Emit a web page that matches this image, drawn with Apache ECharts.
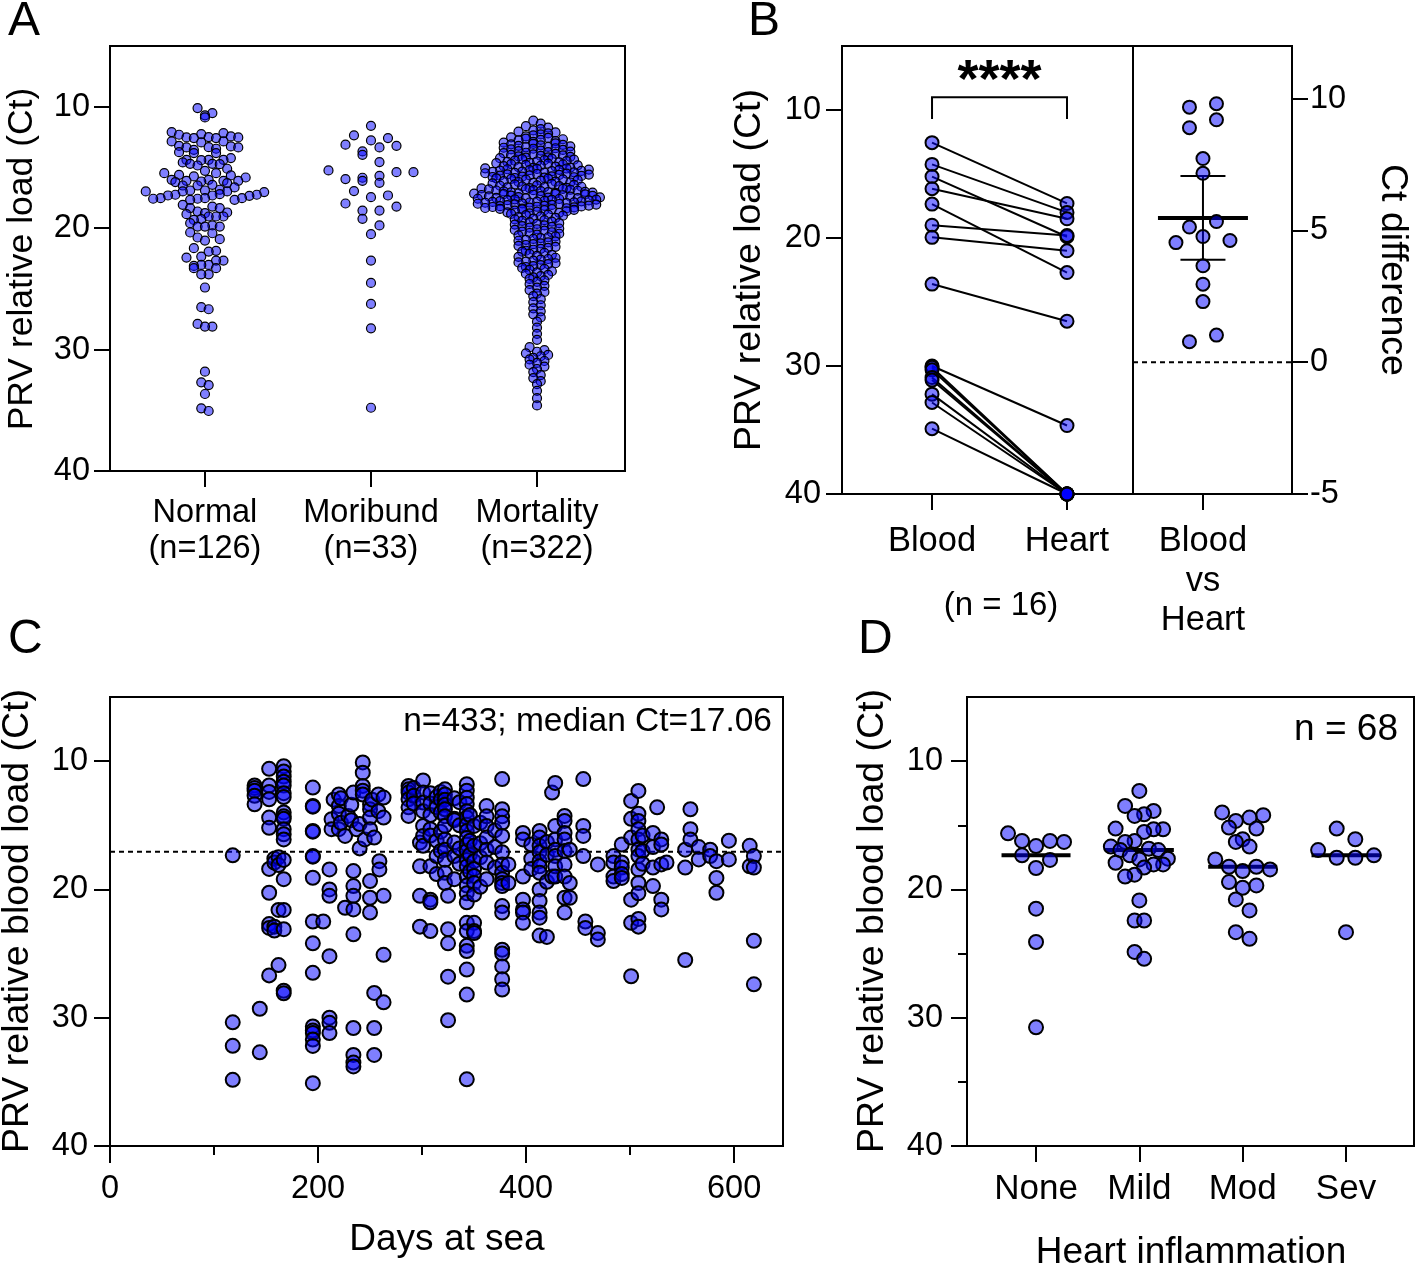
<!DOCTYPE html>
<html>
<head>
<meta charset="utf-8">
<title>PRV relative load</title>
<script src="https://cdn.jsdelivr.net/npm/echarts@6/dist/echarts.min.js"></script>
<style>
  html, body { margin: 0; padding: 0; background: #fff; }
  #main { width: 1424px; height: 1268px; }
</style>
</head>
<body>
<div id="main"></div>
<script>
// ---------- data ----------
var ctTicks = [10, 20, 30, 40];
var ctMinorTicks = [15, 25, 35];

// panel A
var groupNames = ['Normal\n(n=126)', 'Moribund\n(n=33)', 'Mortality\n(n=322)'];
var normalCt = [10.11, 10.52, 10.71, 10.88,
  12.09, 12.17, 12.25, 12.31, 12.45, 12.5, 12.53, 12.53, 12.58, 12.58,
  12.86, 12.86, 12.94, 13.22, 13.27, 13.33, 13.35, 13.35,
  13.46, 13.55, 13.74, 13.82, 13.82,
  14.23, 14.37, 14.37, 14.37, 14.4, 14.59, 14.7, 14.7, 14.73, 14.84,
  15.11, 15.28, 15.47, 15.47, 15.61, 15.66, 15.74,
  15.83, 16.02, 16.02, 16.1, 16.1, 16.1, 16.16, 16.21, 16.29, 16.43, 16.49,
  16.49, 16.65, 16.84, 16.9, 16.9, 16.98, 16.98, 16.98, 17.03, 17.2, 17.25, 17.25, 17.31, 17.31, 17.34,
  17.53, 17.53, 17.53, 17.58, 17.58, 17.67, 17.67,
  18.08, 18.22, 18.35, 18.35, 18.63, 18.71, 18.77, 18.85, 19.04, 19.04, 19.04, 19.26, 19.32,
  19.59, 19.78, 19.87, 19.87, 19.87,
  20.36, 20.42, 20.77, 20.91, 21.02,
  21.65,
  21.87, 21.93, 22.34, 22.42, 22.67, 22.67,
  23.03, 23.03, 23.11, 23.3, 23.3, 23.8, 23.8,
  24.89, 26.51, 26.68, 27.89, 28.11, 28.11,
  31.82, 32.7, 32.92, 33.66, 34.84, 35.06];
var moribundCt = [11.57, 12.36, 12.58, 12.78, 13.13, 13.22, 13.35, 13.68, 13.96, 14.56,
  15.25, 15.39, 15.39, 15.69, 15.85, 15.96, 16.1, 16.27, 16.95, 17.31, 17.45, 17.97,
  18.22, 18.55, 18.55, 19.23, 19.78, 20.5, 22.67, 24.51, 26.24, 28.25, 34.79];
var mortalityCt = [11.15, 11.4,
  11.6, 11.72, 11.84, 11.95,
  12.05, 12.12, 12.2, 12.28, 12.36, 12.45,
  12.52, 12.57, 12.62, 12.68, 12.73, 12.78, 12.84, 12.9, 12.96,
  13.02, 13.06, 13.1, 13.14, 13.18, 13.22, 13.26, 13.3, 13.34, 13.38, 13.42, 13.46,
  13.52, 13.56, 13.61, 13.65, 13.7, 13.74, 13.79, 13.83, 13.88, 13.92, 13.97,
  14.01, 14.05, 14.09, 14.13, 14.17, 14.2, 14.24, 14.28, 14.32, 14.36, 14.4, 14.44, 14.48,
  14.51, 14.55, 14.58, 14.62, 14.65, 14.69, 14.72, 14.76, 14.79, 14.83, 14.86, 14.9, 14.93, 14.97,
  15.01, 15.04, 15.07, 15.09, 15.12, 15.15, 15.18, 15.2, 15.23, 15.26, 15.29, 15.31, 15.34, 15.37, 15.4, 15.42, 15.45, 15.48,
  15.51, 15.54, 15.57, 15.59, 15.62, 15.65, 15.68, 15.7, 15.73, 15.76, 15.79, 15.81, 15.84, 15.87, 15.9, 15.92, 15.95, 15.98,
  16.01, 16.05, 16.09, 16.13, 16.17, 16.2, 16.24, 16.28, 16.32, 16.36, 16.4, 16.44, 16.48,
  16.51, 16.54, 16.57, 16.59, 16.62, 16.65, 16.68, 16.7, 16.73, 16.76, 16.79, 16.81, 16.84, 16.87, 16.9, 16.92, 16.95, 16.98,
  17.01, 17.03, 17.05, 17.08, 17.1, 17.13, 17.15, 17.17, 17.2, 17.22, 17.25, 17.27, 17.29, 17.32, 17.34, 17.37, 17.39, 17.41, 17.44, 17.46, 17.49,
  17.51, 17.53, 17.55, 17.58, 17.6, 17.63, 17.65, 17.67, 17.7, 17.72, 17.75, 17.77, 17.79, 17.82, 17.84, 17.87, 17.89, 17.91, 17.94, 17.96, 17.99,
  18.01, 18.04, 18.06, 18.09, 18.11, 18.14, 18.16, 18.19, 18.21, 18.24, 18.26, 18.29, 18.31, 18.34, 18.36, 18.39, 18.41, 18.44, 18.46, 18.49,
  18.52, 18.56, 18.61, 18.65, 18.7, 18.74, 18.79, 18.83, 18.88, 18.92, 18.97,
  19.03, 19.09, 19.15, 19.21, 19.28, 19.34, 19.4, 19.46,
  19.53, 19.59, 19.65, 19.71, 19.78, 19.84, 19.9, 19.96,
  20.03, 20.09, 20.15, 20.21, 20.28, 20.34, 20.4, 20.46,
  20.54, 20.6, 20.68, 20.75, 20.82, 20.89, 20.96,
  21.04, 21.1, 21.18, 21.25, 21.32, 21.39, 21.46,
  21.54, 21.62, 21.7, 21.78, 21.86, 21.94,
  22.04, 22.12, 22.2, 22.28, 22.36, 22.44,
  22.54, 22.6, 22.68, 22.75, 22.82, 22.89, 22.96,
  23.04, 23.12, 23.2, 23.28, 23.36, 23.44,
  23.55, 23.65, 23.75, 23.85, 23.95,
  24.06, 24.18, 24.3, 24.42,
  24.6, 24.75, 24.9, 25.1, 25.25, 25.4,
  25.6, 25.85, 26.1, 26.35, 26.6, 26.85, 27.1, 27.35, 27.7,
  28.2, 28.7, 29.2, 29.8,
  30.05, 30.18, 30.31, 30.44, 30.55, 30.68, 30.81, 30.94,
  31.1, 31.25, 31.4, 31.6, 31.85, 32.1, 32.35, 32.6, 32.85,
  33.4, 34.0, 34.6];

// panel B
var pairNames = ['Blood', 'Heart'];
var bloodCt = [12.55, 14.25, 15.2, 16.15, 17.35, 19.0, 19.95, 23.6, 30.0, 30.1, 30.3, 30.9, 31.1, 32.2, 32.85, 34.9];
var heartCt = [17.3, 18.0, 19.9, 18.5, 22.7, 19.8, 21.0, 26.5, 34.65, 40, 40, 40, 40, 40, 40, 40];
var diffName = ['Blood\nvs\nHeart'];
var ctDiff = [9.68, 9.81, 9.2, 8.9, 7.73, 7.17, 5.34, 4.77, 5.13, 4.54, 4.62, 3.66, 2.96, 2.3, 0.78, 1.03];
var diffTicks = [-5, 0, 5, 10];
var tCritical = 2.131;          // 95% CI, df = 15
var bracketCt = [9.0, 10.7];     // top and foot of the significance bracket

// panel C: [days at sea, Ct values sampled that day]
var seaSamples = [
  [118, [17.34, 30.36, 32.19, 34.84]],
  [139, [11.9, 12.1, 12.3, 12.7, 13.36]],
  [144, [29.3, 32.7]],
  [153, [10.6, 11.9, 12.4, 12.97, 14.4, 15.2, 18.4, 20.26, 22.7, 23.0, 26.7]],
  [158, [17.6, 17.9, 22.9, 23.2]],
  [162, [17.5, 18.1, 21.6, 25.9]],
  [167, [10.4, 10.8, 11.2, 11.6, 11.9, 12.5, 12.8, 14.0, 14.3, 14.5, 15.3, 15.7, 16.1, 17.7, 19.2, 21.6, 23.1, 27.9, 28.1]],
  [195, [12.06, 13.49, 13.55, 15.44, 15.5, 17.4, 17.45, 19.09, 22.5, 24.2, 26.5, 30.68, 31.0, 31.2, 31.7, 32.2, 35.1]],
  [205, [22.5]],
  [211, [18.44, 20.0, 20.5, 25.2, 30.0, 30.4, 31.2]],
  [213, [14.53, 15.3]],
  [215, [13.0]],
  [220, [12.6, 13.49, 14.1, 15.3]],
  [222, [12.9, 14.8]],
  [226, [15.83, 21.43]],
  [229, [14.27]],
  [232, [13.4, 14.6]],
  [234, [12.45, 18.57, 19.74, 20.5, 21.56, 23.5, 30.8, 32.9, 33.5, 33.8]],
  [237, [15.3]],
  [240, [14.9, 16.8]],
  [243, [10.1, 10.9, 11.93, 12.3, 12.6]],
  [245, [16.1]],
  [250, [13.36, 13.75, 14.4, 15.3, 19.35, 20.65, 21.8]],
  [252, [13.0]],
  [254, [15.96, 28.07, 30.8, 32.9]],
  [258, [12.6, 13.9]],
  [259, [17.8, 18.44]],
  [263, [12.84, 14.4, 20.5, 25.1, 28.8]],
  [287, [11.93, 12.2, 12.45, 12.97, 13.6, 14.27]],
  [292, [12.1, 12.7, 13.3]],
  [298, [16.35, 18.2, 20.5, 22.9]],
  [301, [11.5, 12.45, 13.23, 13.9, 15.05, 15.83, 16.6]],
  [308, [12.5, 13.3, 14.2, 15.3, 15.8, 18.2, 20.8, 21.0, 23.25]],
  [314, [12.8, 13.6, 16.2, 17.4, 18.8]],
  [318, [12.4, 13.0, 14.0, 15.5, 17.0]],
  [322, [12.2, 12.6, 13.0, 13.4, 13.75, 14.3, 15.05, 16.1, 16.9, 17.7, 18.7, 19.5]],
  [325, [20.5, 23.1, 24.2, 26.8, 30.2]],
  [331, [12.9, 14.5, 14.6, 16.35, 17.4, 19.2]],
  [336, [13.2, 15.0, 16.8, 18.0]],
  [343, [11.8, 12.3, 12.85, 13.35, 13.9, 14.4, 14.95, 15.45, 16.0, 16.5, 17.0, 17.7, 18.2, 19.0, 19.7, 20.3, 21.0, 22.6, 23.25, 24.4, 24.8, 26.25, 28.2, 34.8]],
  [346, [14.2, 16.2, 17.3, 18.6]],
  [350, [15.05, 16.6, 17.8, 18.4, 18.95, 19.5, 20.4, 22.6, 23.25, 23.4]],
  [356, [14.8, 16.4, 17.5, 19.8]],
  [362, [13.5, 14.3, 15.05, 15.96, 16.9, 17.9, 19.2]],
  [370, [15.4, 16.7, 18.3]],
  [377, [11.4, 13.75, 14.3, 14.8, 15.83, 17.1, 18.05, 18.7, 19.2, 19.5, 19.74, 21.3, 21.8, 24.7, 25.0, 26.0, 27.0, 27.8]],
  [383, [18.05, 19.5]],
  [397, [15.6, 16.1, 19.0, 20.8, 21.56, 21.8, 22.6]],
  [405, [16.5, 17.6, 18.4]],
  [413, [15.44, 15.96, 16.6, 17.1, 17.8, 18.2, 18.7, 20.0, 20.9, 21.8, 22.2, 23.6]],
  [420, [16.3, 17.3, 19.4, 23.7]],
  [425, [12.45, 19.0]],
  [428, [11.7, 15.05, 16.1, 16.9, 17.4, 18.2, 19.0]],
  [437, [14.27, 14.66, 15.6, 16.1, 17.0, 18.05, 19.0, 20.65, 21.8]],
  [442, [16.9, 19.5, 20.65]],
  [455, [11.4, 15.05, 15.83, 17.4]],
  [457, [22.5, 23.0]],
  [469, [18.05, 23.4, 23.9]],
  [484, [17.4, 17.9, 19.0, 19.35]],
  [492, [16.5, 17.9, 18.3, 18.8, 19.1]],
  [501, [13.1, 14.5, 15.96, 20.8, 22.6, 26.77]],
  [508, [12.32, 14.1, 14.66, 15.3, 16.1, 16.9, 17.4, 18.44, 19.5, 20.3, 22.3, 22.9]],
  [512, [15.8, 17.0, 18.0]],
  [522, [15.6, 16.7, 18.3, 19.74]],
  [526, [13.6]],
  [530, [16.1, 16.5, 18.05, 20.8, 21.56]],
  [535, [17.9]],
  [553, [16.9, 18.3, 25.5]],
  [558, [13.75, 15.3, 16.1]],
  [566, [16.7, 17.66]],
  [577, [16.9, 17.4]],
  [583, [17.8, 19.1, 20.26]],
  [595, [16.2, 17.66]],
  [615, [16.6, 18.2]],
  [619, [17.4, 18.3, 24.0, 27.4]]
];
var dayTicks = [0, 200, 400, 600];
var dayMinorTicks = [100, 300, 500];
var medianCt = 17.06;

// panel D
var inflammation = ['None', 'Mild', 'Mod', 'Sev'];
var noneCt = [15.63, 16.22, 16.22, 16.3, 16.62, 17.34, 17.7, 18.33, 21.5, 24.1, 30.75];
var mildCt = [12.32, 13.49, 13.88, 14.14, 14.27, 15.26, 15.31, 15.31, 15.52, 16.22, 16.3, 16.66, 16.82,
  16.93, 16.93, 17.34, 17.6, 17.66, 17.92, 18.05, 18.05, 18.3, 18.85, 19.0, 20.86, 22.42, 22.42, 24.87, 25.41];
var modCt = [14.0, 14.22, 14.4, 14.66, 15.18, 15.26, 16.09, 16.3, 16.66, 17.66, 18.23, 18.23, 18.44, 18.57,
  19.43, 19.69, 19.87, 20.78, 21.64, 23.33, 23.85];
var sevCt = [15.26, 16.09, 16.93, 17.34, 17.53, 17.53, 23.33];

// ---------- layout ----------
var FONT = '"Liberation Sans", Arial, Helvetica, sans-serif';
var FILL = 'rgba(0,0,255,0.5)';
var GRID = {
  A:  {left: 110,  top: 46,  width: 515, height: 425, xMin: 0.428, xMax: 3.53,  yMin: 5, yMax: 40},
  B1: {left: 842,  top: 46,  width: 291, height: 448, xMin: 0.333, xMax: 2.489, yMin: 5, yMax: 40},
  B2: {left: 1133, top: 46,  width: 159, height: 448, xMin: 0.56,  xMax: 1.56,  yMin: -5, yMax: 12},
  C:  {left: 110,  top: 697, width: 673, height: 449, xMin: 0,     xMax: 647,   yMin: 5, yMax: 40},
  D:  {left: 967,  top: 697, width: 447, height: 449, xMin: 0.332, xMax: 4.658, yMin: 5, yMax: 40}
};
function pxX(g) { return g.width / (g.xMax - g.xMin); }

// Prism-like dot plot: values are grouped in short rows,
// each row is spread side by side (squeezed when it would be too wide)
function gcd(a, b) { return b ? gcd(b, a % b) : a; }
function swarm(values, opt) {
  var order = values.map(function (v, i) { return i; })
    .sort(function (a, b) { return values[a] - values[b]; });
  var out = [], k = 0;
  while (k < order.length) {
    var start = values[order[k]], row = [];
    while (k < order.length && values[order[k]] < start + opt.bin) row.push(order[k++]);
    var n = row.length;
    var sp = n > 1 ? Math.min(opt.step, 2 * opt.half / (n - 1)) : 0;
    var p = Math.max(1, Math.round(n * 0.618));
    while (gcd(p, n) !== 1) p++;
    row.forEach(function (idx, j) { out[idx] = ((j * p) % n - (n - 1) / 2) * sp; });
  }
  return out;
}
function swarmData(groups, g, opts) {
  var data = [];
  groups.forEach(function (vals, gi) {
    var off = swarm(vals, opts[gi]);
    vals.forEach(function (v, i) { data.push([gi + 1 + off[i] / pxX(g), v]); });
  });
  return data;
}
function median(a) {
  var s = a.slice().sort(function (x, y) { return x - y; }), m = s.length >> 1;
  return s.length % 2 ? s[m] : (s[m - 1] + s[m]) / 2;
}

var groupsA = [normalCt, moribundCt, mortalityCt];
var dataA = swarmData(groupsA, GRID.A, [
  {bin: 0.72, step: 7.4, half: 64}, {bin: 0.72, step: 17, half: 50}, {bin: 0.41, step: 7.4, half: 64}]);

var diffOff = swarm(ctDiff, {bin: 0.5, step: 27, half: 27});
var dataDiff = ctDiff.map(function (v, i) { return [1 + diffOff[i] / pxX(GRID.B2), v]; });
var diffMean = ctDiff.reduce(function (a, b) { return a + b; }, 0) / ctDiff.length;
var diffSd = Math.sqrt(ctDiff.reduce(function (a, b) { return a + (b - diffMean) * (b - diffMean); }, 0) / (ctDiff.length - 1));
var diffCi = tCritical * diffSd / Math.sqrt(ctDiff.length);

var seaPoints = [];
seaSamples.forEach(function (s) { s[1].forEach(function (ct) { seaPoints.push([s[0], ct]); }); });

var groupsD = [noneCt, mildCt, modCt, sevCt];
var dataD = swarmData(groupsD, GRID.D, [
  {bin: 1.09, step: 14, half: 45}, {bin: 1.09, step: 9.5, half: 45},
  {bin: 1.09, step: 13.7, half: 45}, {bin: 1.09, step: 18.6, half: 45}]);

// ---------- axes helpers ----------
var LINE = {color: '#000', width: 2};
function gridOf(g) {
  return {left: g.left, top: g.top, width: g.width, height: g.height, show: true,
    borderColor: '#000', borderWidth: 2, backgroundColor: 'transparent', outerBoundsMode: 'none'};
}
function labelStyle(size, margin, extra) {
  return Object.assign({show: true, margin: margin, color: '#000', fontSize: size, fontFamily: FONT}, extra || {});
}
function ctAxis(gi, g, margin) {
  return {
    type: 'value', gridIndex: gi, min: g.yMin, max: g.yMax, inverse: true,
    axisLine: {show: true, onZero: false, lineStyle: LINE},
    axisTick: {show: true, length: 16, customValues: ctTicks, lineStyle: LINE},
    axisLabel: labelStyle(32.5, margin, {customValues: ctTicks}),
    splitLine: {show: false}
  };
}
function catAxis(gi, g, names, size, margin, lineHeight) {
  var ticks = names.map(function (n, i) { return i + 1; });
  return {
    type: 'value', gridIndex: gi, min: g.xMin, max: g.xMax,
    axisLine: {show: true, onZero: false, lineStyle: LINE},
    axisTick: {show: true, length: 16, customValues: ticks, lineStyle: LINE},
    axisLabel: labelStyle(size, margin, {customValues: ticks, lineHeight: lineHeight,
      formatter: function (v) { return names[Math.round(v) - 1]; }}),
    splitLine: {show: false}
  };
}
function dots(xi, yi, data, size, border) {
  return {type: 'scatter', xAxisIndex: xi, yAxisIndex: yi, data: data, symbolSize: size, clip: false, z: 3,
    itemStyle: {color: FILL, borderColor: '#000', borderWidth: border, opacity: 1},
    emphasis: {disabled: true}, silent: true};
}
function dashed(xi, yi, data) {
  return {type: 'line', xAxisIndex: xi, yAxisIndex: yi, data: data, symbol: 'none', clip: false, z: 2,
    lineStyle: {color: '#000', width: 2, type: [5, 4]}, silent: true};
}
function txt(x, y, text, size, opt) {
  return Object.assign({type: 'text', x: x, y: y, silent: true,
    style: Object.assign({text: text, fill: '#000', fontSize: size, fontFamily: FONT,
      align: 'center', verticalAlign: 'middle'}, (opt && opt.style) || {})},
    opt && opt.rotation !== undefined ? {rotation: opt.rotation} : {});
}

var chart = echarts.init(document.getElementById('main'));
chart.setOption({
  animation: false,
  backgroundColor: '#fff',
  textStyle: {fontFamily: FONT, color: '#000'},
  grid: [gridOf(GRID.A), gridOf(GRID.B1), gridOf(GRID.B2), gridOf(GRID.C), gridOf(GRID.D)],
  xAxis: [
    catAxis(0, GRID.A, groupNames, 32.5, 24, 36),
    catAxis(1, GRID.B1, pairNames, 34.5, 28, 39.5),
    catAxis(2, GRID.B2, diffName, 34.5, 28, 39.5),
    {type: 'value', gridIndex: 3, min: GRID.C.xMin, max: GRID.C.xMax, position: 'bottom',
      axisLine: {show: true, onZero: false, lineStyle: LINE},
      axisTick: {show: true, length: 17, customValues: dayTicks, lineStyle: LINE},
      axisLabel: labelStyle(32.5, 27, {customValues: dayTicks}),
      splitLine: {show: false}},
    {type: 'value', gridIndex: 3, min: GRID.C.xMin, max: GRID.C.xMax, position: 'bottom',
      axisLine: {show: false, onZero: false},
      axisTick: {show: true, length: 9, customValues: dayMinorTicks, lineStyle: LINE},
      axisLabel: {show: false}, splitLine: {show: false}},
    catAxis(4, GRID.D, inflammation, 35, 25, 36)
  ],
  yAxis: [
    ctAxis(0, GRID.A, 20),
    ctAxis(1, GRID.B1, 21),
    {type: 'value', gridIndex: 2, min: GRID.B2.yMin, max: GRID.B2.yMax, position: 'right',
      axisLine: {show: true, onZero: false, lineStyle: LINE},
      axisTick: {show: true, length: 16, customValues: diffTicks, lineStyle: LINE},
      axisLabel: labelStyle(32.5, 18, {customValues: diffTicks}),
      splitLine: {show: false}},
    ctAxis(3, GRID.C, 22),
    ctAxis(4, GRID.D, 24),
    {type: 'value', gridIndex: 4, min: GRID.D.yMin, max: GRID.D.yMax, inverse: true, position: 'left',
      axisLine: {show: false, onZero: false},
      axisTick: {show: true, length: 9, customValues: ctMinorTicks, lineStyle: LINE},
      axisLabel: {show: false}, splitLine: {show: false}}
  ],
  series: [
    // A
    dots(0, 0, dataA, 9, 1.2),
    // B left: paired lines, bracket, points
    {type: 'custom', xAxisIndex: 1, yAxisIndex: 1, clip: false, z: 2, silent: true,
      data: bloodCt.map(function (b, i) { return [1, b, 2, heartCt[i]]; }),
      encode: {x: [0, 2], y: [1, 3]},
      renderItem: function (p, api) {
        var a = api.coord([api.value(0), api.value(1)]), b = api.coord([api.value(2), api.value(3)]);
        return {type: 'line', shape: {x1: a[0], y1: a[1], x2: b[0], y2: b[1]}, style: {stroke: '#000', lineWidth: 2}};
      }},
    {type: 'custom', xAxisIndex: 1, yAxisIndex: 1, clip: false, z: 2, silent: true,
      data: [[1, bracketCt[0], 2, bracketCt[1]]],
      encode: {x: [0, 2], y: [1, 3]},
      renderItem: function (p, api) {
        var l = api.coord([api.value(0), api.value(1)]), r = api.coord([api.value(2), api.value(1)]);
        var foot = api.coord([api.value(0), api.value(3)])[1];
        return {type: 'group', children: [
          {type: 'polyline', shape: {points: [[l[0], foot], [l[0], l[1]], [r[0], r[1]], [r[0], foot]]},
            style: {stroke: '#000', lineWidth: 2, fill: null}},
          {type: 'text', x: (l[0] + r[0]) / 2, y: l[1] - 15,
            style: {text: '****', fontSize: 54, fontWeight: 'bold', fontFamily: FONT, fill: '#000',
              align: 'center', verticalAlign: 'middle'}}
        ]};
      }},
    dots(1, 1, bloodCt.map(function (v) { return [1, v]; }), 13, 2),
    dots(1, 1, heartCt.map(function (v) { return [2, v]; }), 13, 2),
    // B right: zero line, mean with 95% CI, differences
    dashed(2, 2, [[GRID.B2.xMin, 0], [GRID.B2.xMax, 0]]),
    {type: 'custom', xAxisIndex: 2, yAxisIndex: 2, clip: false, z: 2, silent: true,
      data: [[1, diffMean, diffMean - diffCi, diffMean + diffCi]],
      encode: {x: 0, y: [1, 2, 3]},
      renderItem: function (p, api) {
        var m = api.coord([api.value(0), api.value(1)]);
        var lo = api.coord([api.value(0), api.value(2)])[1], hi = api.coord([api.value(0), api.value(3)])[1];
        var st = {stroke: '#000', lineWidth: 2};
        return {type: 'group', children: [
          {type: 'line', shape: {x1: m[0], y1: lo, x2: m[0], y2: hi}, style: st},
          {type: 'line', shape: {x1: m[0] - 22.5, y1: lo, x2: m[0] + 22.5, y2: lo}, style: st},
          {type: 'line', shape: {x1: m[0] - 22.5, y1: hi, x2: m[0] + 22.5, y2: hi}, style: st},
          {type: 'line', shape: {x1: m[0] - 45, y1: m[1], x2: m[0] + 45, y2: m[1]}, style: {stroke: '#000', lineWidth: 4}}
        ]};
      }},
    dots(2, 2, dataDiff, 13, 2),
    // C
    dashed(3, 3, [[GRID.C.xMin, medianCt], [GRID.C.xMax, medianCt]]),
    dots(3, 3, seaPoints, 14, 2),
    // D
    {type: 'custom', xAxisIndex: 5, yAxisIndex: 4, clip: false, z: 2, silent: true,
      data: groupsD.map(function (v, i) { return [i + 1, median(v)]; }),
      renderItem: function (p, api) {
        var c = api.coord([api.value(0), api.value(1)]);
        return {type: 'line', shape: {x1: c[0] - 34.5, y1: c[1], x2: c[0] + 34.5, y2: c[1]},
          style: {stroke: '#000', lineWidth: 4}};
      }},
    dots(5, 4, dataD, 14, 2)
  ],
  graphic: [
    txt(8, 22, 'A', 48, {style: {align: 'left'}}),
    txt(748, 22, 'B', 48, {style: {align: 'left'}}),
    txt(8, 640, 'C', 48, {style: {align: 'left'}}),
    txt(858, 640, 'D', 48, {style: {align: 'left'}}),
    txt(22, 259, 'PRV relative load (Ct)', 35.5, {rotation: Math.PI / 2}),
    txt(750, 270, 'PRV relative load (Ct)', 37.5, {rotation: Math.PI / 2}),
    txt(1392, 270, 'Ct difference', 37.5, {rotation: -Math.PI / 2}),
    txt(1001, 606, '(n = 16)', 33),
    txt(18, 921, 'PRV relative blood load (Ct)', 37.5, {rotation: Math.PI / 2}),
    txt(873, 921, 'PRV relative blood load (Ct)', 37.5, {rotation: Math.PI / 2}),
    txt(447, 1240, 'Days at sea', 37),
    txt(1191, 1253, 'Heart inflammation', 37),
    txt(772, 722, 'n=433; median Ct=17.06', 33.5, {style: {align: 'right'}}),
    txt(1398, 730, 'n = 68', 37, {style: {align: 'right'}})
  ]
});
</script>
</body>
</html>
